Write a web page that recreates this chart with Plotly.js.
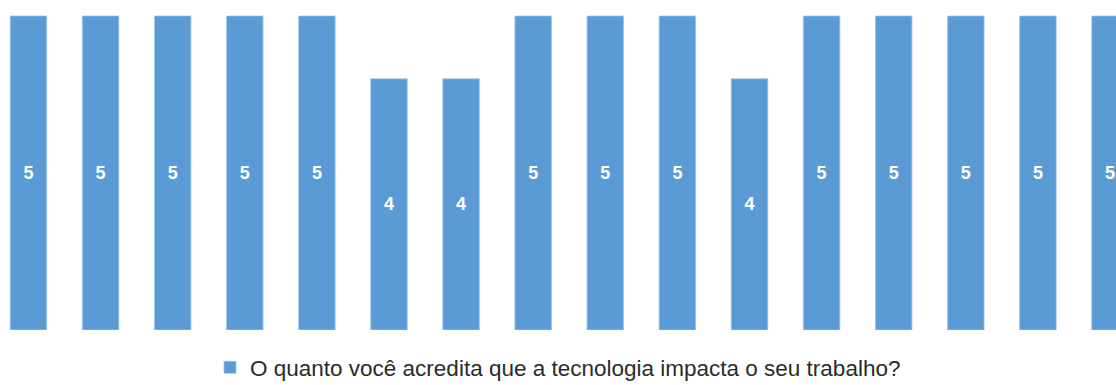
<!DOCTYPE html>
<html>
<head>
<meta charset="utf-8">
<script src="https://cdn.plot.ly/plotly-3.0.1.min.js"></script>
<style>html,body{margin:0;padding:0;background:#fff;}#chart{width:1116px;height:385px;}</style>
</head>
<body>
<div id="chart"></div>
<script>
const categories = ["1","2","3","4","5","6","7","8","9","10","11","12","13","14","15","16"];
const values = [5,5,5,5,5,4,4,5,5,5,4,5,5,5,5,5];
const seriesName = "O quanto você acredita que a tecnologia impacta o seu trabalho?";

const trace = {
  type: 'bar',
  x: categories,
  y: values,
  name: seriesName,
  width: 0.506,
  marker: {color: '#5B9BD5', line: {color: '#9DC3E6', width: 0.8}},
  text: values.map(String),
  textposition: 'inside',
  insidetextanchor: 'middle',
  textangle: 0,
  textfont: {family: 'Liberation Sans, Arial, sans-serif', size: 18, color: '#ffffff', weight: 'bold'},
  hoverinfo: 'skip',
  showlegend: true
};

const layout = {
  width: 1116, height: 385,
  margin: {l: 0, r: 0, t: 0, b: 55},
  paper_bgcolor: '#ffffff', plot_bgcolor: '#ffffff',
  xaxis: {type: 'category', range: [-0.395, 15.083], visible: false, fixedrange: true},
  yaxis: {range: [0, 5.255], visible: false, fixedrange: true},
  showlegend: true,
  legend: {
    orientation: 'h', x: 0.5, xanchor: 'center', xref: 'container',
    y: 0.045, yanchor: 'middle', yref: 'container',
    font: {family: 'Liberation Sans, Arial, sans-serif', size: 22.5, color: '#2b2b2b'},
    itemwidth: 30
  },
  bargap: 0.5
};

Plotly.newPlot('chart', [trace], layout, {displayModeBar: false, staticPlot: true});
</script>
</body>
</html>
